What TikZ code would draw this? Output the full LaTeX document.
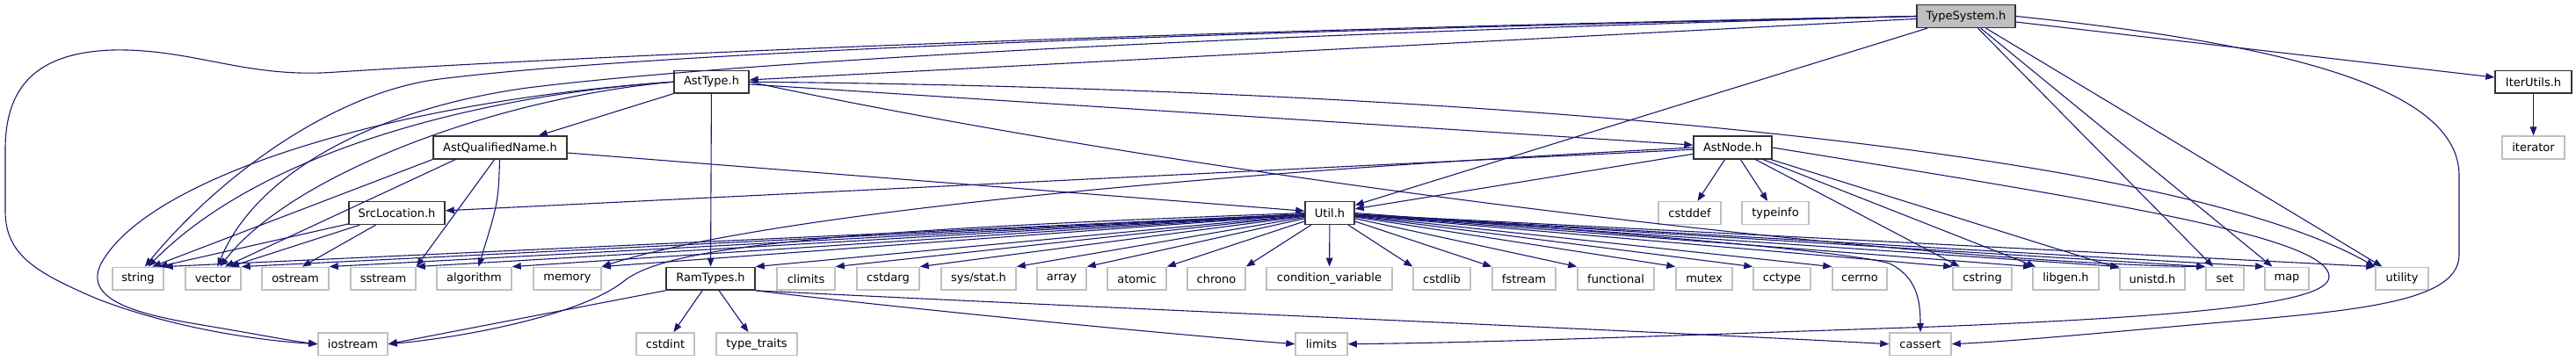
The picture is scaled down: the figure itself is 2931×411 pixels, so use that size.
\documentclass[tikz,border=0pt]{standalone}
\usepackage{fontspec}
\setmainfont{DejaVu Sans}
\usetikzlibrary{arrows.meta}
\definecolor{edgeblue}{HTML}{191970}
\definecolor{rootgray}{HTML}{BFBFBF}
\definecolor{sysgray}{HTML}{BFBFBF}
\tikzset{
  gbase/.style={rectangle, inner sep=0pt, minimum height=12.85pt, anchor=center,
    font=\fontsize{6.5pt}{7.5pt}\selectfont, text=black},
  docbox/.style={gbase, draw=black!80, line width=0.75pt, fill=white},
  sysbox/.style={gbase, draw=sysgray, line width=0.75pt, fill=white},
  rootbox/.style={gbase, draw=black!80, line width=0.75pt, fill=rootgray},
  dep/.style={draw=edgeblue, line width=0.55pt, -{Triangle[length=5pt,width=3.8pt]}, fill=none},
}
\begin{document}
\begin{tikzpicture}[x=0.5pt, y=-0.5pt]
\useasboundingbox (0,0) rectangle (2931,411);
% row 1
\node[rootbox, minimum width=56pt] (ts) at (2237,18.5) {TypeSystem.h};
% row 2
\node[docbox, minimum width=42.5pt] (ast) at (809.5,93.2) {AstType.h};
\node[docbox, minimum width=43.5pt] (iter) at (2882.5,93.2) {IterUtils.h};
% row 3
\node[docbox, minimum width=76pt] (aqn) at (569,168) {AstQualifiedName.h};
\node[docbox, minimum width=44.5pt] (anode) at (1971.5,168) {AstNode.h};
\node[sysbox, minimum width=35.5pt] (iterator) at (2882.5,168) {iterator};
% row 4
\node[docbox, minimum width=54.5pt] (src) at (451.5,242.5) {SrcLocation.h};
\node[docbox, minimum width=28pt] (util) at (1513,242.5) {Util.h};
\node[sysbox, minimum width=35.5pt] (cstddef) at (1922.5,242.5) {cstddef};
\node[sysbox, minimum width=38pt] (typeinfo) at (2020,242.5) {typeinfo};
% row 5
\node[sysbox, minimum width=29pt] (string) at (157,317.2) {string};
\node[sysbox, minimum width=31.5pt] (vector) at (242.5,317.2) {vector};
\node[sysbox, minimum width=38pt] (ostream) at (336,317.2) {ostream};
\node[sysbox, minimum width=37pt] (sstream) at (436,317.2) {sstream};
\node[sysbox, minimum width=42.5pt] (algorithm) at (539.5,317.2) {algorithm};
\node[sysbox, minimum width=38.5pt] (memory) at (645.5,317.2) {memory};
\node[docbox, minimum width=50.5pt] (ram) at (808.5,317.2) {RamTypes.h};
\node[sysbox, minimum width=33pt] (climits) at (917,317.2) {climits};
\node[sysbox, minimum width=35.5pt] (cstdarg) at (1010.5,317.2) {cstdarg};
\node[sysbox, minimum width=42.5pt] (sysstat) at (1113.5,317.2) {sys/stat.h};
\node[sysbox, minimum width=28pt] (array) at (1208,317.2) {array};
\node[sysbox, minimum width=33.5pt] (atomic) at (1293.5,317.2) {atomic};
\node[sysbox, minimum width=33pt] (chrono) at (1384,317.2) {chrono};
\node[sysbox, minimum width=71.5pt] (condvar) at (1512.5,317.2) {condition\_variable};
\node[sysbox, minimum width=32.5pt] (cstdlib) at (1640.5,317.2) {cstdlib};
\node[sysbox, minimum width=36pt] (fstream) at (1734,317.2) {fstream};
\node[sysbox, minimum width=43.5pt] (functional) at (1838.5,317.2) {functional};
\node[sysbox, minimum width=32pt] (mutex) at (1939,317.2) {mutex};
\node[sysbox, minimum width=32.5pt] (cctype) at (2027.5,317.2) {cctype};
\node[sysbox, minimum width=31pt] (cerrno) at (2116,317.2) {cerrno};
\node[sysbox, minimum width=33.5pt] (cstring) at (2255.5,317.2) {cstring};
\node[sysbox, minimum width=37.5pt] (libgen) at (2350.5,317.2) {libgen.h};
\node[sysbox, minimum width=37pt] (unistd) at (2449,317.2) {unistd.h};
\node[sysbox, minimum width=21.5pt] (set) at (2531.5,317.2) {set};
\node[sysbox, minimum width=25pt] (map) at (2602,317.2) {map};
\node[sysbox, minimum width=30pt] (utility) at (2733,317.2) {utility};
% row 6
\node[sysbox, minimum width=39.5pt] (iostream) at (401.5,391.7) {iostream};
\node[sysbox, minimum width=33pt] (cstdint) at (757,391.7) {cstdint};
\node[sysbox, minimum width=46pt] (typetraits) at (861,391.7) {type\_traits};
\node[sysbox, minimum width=29.5pt] (limits) at (1503.5,391.7) {limits};
\node[sysbox, minimum width=35pt] (cassert) at (2185,391.7) {cassert};

% ---- TypeSystem.h
\draw[dep] (ts) -- (ast);
\draw[dep] (ts) -- (util);
\draw[dep] (ts) -- (iter);
\draw[dep] (ts) -- (set);
\draw[dep] (ts) -- (map);
\draw[dep] (ts) -- (utility);
\draw[dep] (ts.west) .. controls (1300,35) and (650,65) .. (383,82)
  .. controls (280,90) and (220,55) .. (128,57)
  .. controls (40,60) and (6,100) .. (6,170) -- (6,240)
  .. controls (6,290) and (40,310) .. (110,340)
  .. controls (200,375) and (300,388) .. (iostream.west);
\draw[dep] (ts.west) .. controls (1200,40) and (700,65) .. (500,90)
  .. controls (380,105) and (250,200) .. (string.60);
\draw[dep] (ts.west) .. controls (1300,42) and (800,75) .. (600,100)
  .. controls (420,125) and (290,200) .. (vector.70);
\draw[dep] (ts.east) .. controls (2600,50) and (2798,100) .. (2798,200) -- (2798,290)
  .. controls (2798,340) and (2700,352) .. (2550,365)
  .. controls (2400,378) and (2300,388) .. (cassert.east);
% ---- IterUtils.h
\draw[dep] (iter) -- (iterator);
% ---- AstType.h
\draw[dep] (ast) -- (aqn);
\draw[dep] (ast) -- (ram);
\draw[dep] (ast) -- (anode);
\draw[dep] (ast.west) .. controls (550,108) and (300,170) .. (string.50);
\draw[dep] (ast.west) .. controls (560,112) and (330,200) .. (vector.60);
\draw[dep] (ast.west) .. controls (450,115) and (170,200) .. (115,300)
  .. controls (95,340) and (150,357) .. (230,370)
  .. controls (290,380) and (330,388) .. (iostream.west);
\draw[dep] (ast.east) .. controls (1400,210) and (2200,300) .. (set.north west);
\draw[dep] (ast.east) .. controls (1600,100) and (2450,160) .. (utility.north west);
% ---- AstQualifiedName.h
\draw[dep] (aqn) -- (util);
\draw[dep] (aqn.190) -- (string.40);
\draw[dep] (aqn.195) -- (vector.45);
\draw[dep] (aqn.245) -- (sstream.north east);
\draw[dep] (aqn.268) .. controls (567,230) .. (algorithm.70);
% ---- AstNode.h
\draw[dep] (anode) -- (src);
\draw[dep] (anode) -- (util);
\draw[dep] (anode) -- (cstddef);
\draw[dep] (anode) -- (typeinfo);
\draw[dep] (anode) -- (cstring);
\draw[dep] (anode) -- (libgen);
\draw[dep] (anode) -- (unistd);
\draw[dep] (anode.west) .. controls (1300,200) and (850,250) .. (memory.north east);
\draw[dep] (anode.east) .. controls (2400,230) and (2650,270) .. (2650,315)
  .. controls (2650,345) and (2500,360) .. (2200,372)
  .. controls (1900,382) and (1700,390) .. (limits.east);
% ---- SrcLocation.h
\draw[dep] (src) -- (string.30);
\draw[dep] (src) -- (vector.35);
\draw[dep] (src) -- (ostream.60);
% ---- RamTypes.h
\draw[dep] (ram) -- (cstdint);
\draw[dep] (ram) -- (typetraits);
\draw[dep] (ram.south west) -- (iostream.east);
\draw[dep] (ram.south east) .. controls (1000,348) and (1300,378) .. (limits.west);
\draw[dep] (ram.south east) .. controls (1200,348) and (1900,378) .. (cassert.west);
% ---- Util.h
\draw[dep] (util) -- (string.north east);
\draw[dep] (util) -- (vector.north east);
\draw[dep] (util) -- (ostream.north east);
\draw[dep] (util) -- (sstream.north east);
\draw[dep] (util) -- (algorithm.north east);
\draw[dep] (util) -- (memory.north east);
\draw[dep] (util) -- (ram.north east);
\draw[dep] (util) -- (climits.north east);
\draw[dep] (util) -- (cstdarg.north east);
\draw[dep] (util) -- (sysstat.north east);
\draw[dep] (util) -- (array.north east);
\draw[dep] (util) -- (atomic.north east);
\draw[dep] (util) -- (chrono.north east);
\draw[dep] (util) -- (condvar);
\draw[dep] (util) -- (cstdlib.north west);
\draw[dep] (util) -- (fstream.north west);
\draw[dep] (util) -- (functional.north west);
\draw[dep] (util) -- (mutex.north west);
\draw[dep] (util) -- (cctype.north west);
\draw[dep] (util) -- (cerrno.north west);
\draw[dep] (util) -- (cstring.north west);
\draw[dep] (util) -- (libgen.north west);
\draw[dep] (util) -- (unistd.north west);
\draw[dep] (util) -- (set.north west);
\draw[dep] (util) -- (map.north west);
\draw[dep] (util) -- (utility.north west);
\draw[dep] (util.west) .. controls (950,262) and (760,280) .. (710,320)
  .. controls (660,360) and (520,385) .. (iostream.east);
\draw[dep] (util.east) .. controls (1800,262) and (2100,285) .. (2150,300)
  .. controls (2180,315) and (2185,340) .. (cassert.north);
\end{tikzpicture}
\end{document}
